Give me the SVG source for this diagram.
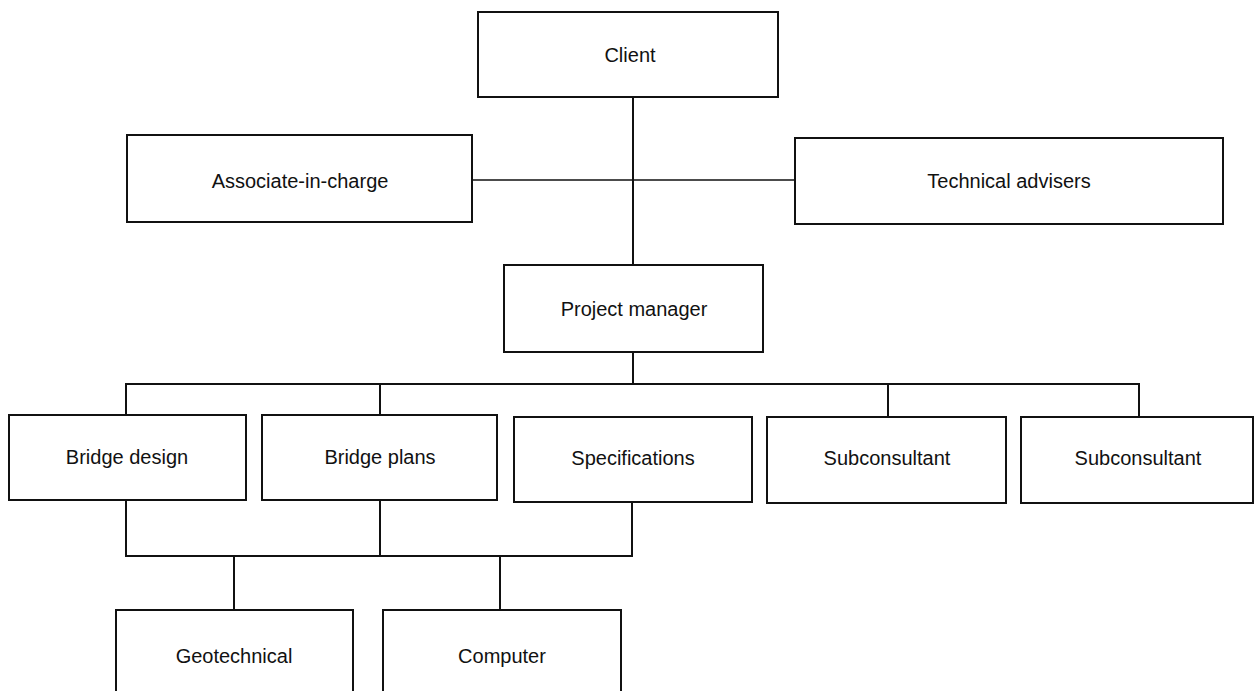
<svg xmlns="http://www.w3.org/2000/svg" width="1255" height="691" viewBox="0 0 1255 691">
<style>
.box{fill:#fff;stroke:#111;stroke-width:2}
.lbl{font-family:"Liberation Sans",Arial,sans-serif;font-size:20px;fill:#111;text-anchor:middle}
.conn{fill:none;stroke:#111;stroke-width:2}
.thin{fill:none;stroke:#111;stroke-width:1.3}
</style>
<rect width="1255" height="691" fill="#fff"/>
<g id="connectors">
<line class="conn" x1="633" y1="97" x2="633" y2="265"/>
<line class="thin" x1="472" y1="180" x2="795" y2="180"/>
<line class="conn" x1="633" y1="352" x2="633" y2="384"/>
<polyline class="conn" points="126,415 126,384 1139,384 1139,417"/>
<line class="conn" x1="380" y1="384" x2="380" y2="415"/>
<line class="conn" x1="888" y1="384" x2="888" y2="417"/>
<polyline class="conn" points="126,500 126,556 632,556 632,502"/>
<line class="conn" x1="380" y1="500" x2="380" y2="556"/>
<line class="conn" x1="234" y1="556" x2="234" y2="610"/>
<line class="conn" x1="500" y1="556" x2="500" y2="610"/>
</g>
<g id="client"><rect class="box" x="478" y="12" width="300" height="85"/><text class="lbl" x="630" y="62">Client</text></g>
<g id="associate"><rect class="box" x="127" y="135" width="345" height="87"/><text class="lbl" x="300" y="188">Associate-in-charge</text></g>
<g id="technical"><rect class="box" x="795" y="138" width="428" height="86"/><text class="lbl" x="1009" y="188">Technical advisers</text></g>
<g id="pm"><rect class="box" x="504" y="265" width="259" height="87"/><text class="lbl" x="634" y="316">Project manager</text></g>
<g id="bridge-design"><rect class="box" x="9" y="415" width="237" height="85"/><text class="lbl" x="127" y="464">Bridge design</text></g>
<g id="bridge-plans"><rect class="box" x="262" y="415" width="235" height="85"/><text class="lbl" x="380" y="464">Bridge plans</text></g>
<g id="specifications"><rect class="box" x="514" y="417" width="238" height="85"/><text class="lbl" x="633" y="465">Specifications</text></g>
<g id="subconsultant1"><rect class="box" x="767" y="417" width="239" height="86"/><text class="lbl" x="887" y="465">Subconsultant</text></g>
<g id="subconsultant2"><rect class="box" x="1021" y="417" width="232" height="86"/><text class="lbl" x="1138" y="465">Subconsultant</text></g>
<g id="geotechnical"><rect class="box" x="116" y="610" width="237" height="95"/><text class="lbl" x="234" y="663">Geotechnical</text></g>
<g id="computer"><rect class="box" x="383" y="610" width="238" height="95"/><text class="lbl" x="502" y="663">Computer</text></g>
</svg>
